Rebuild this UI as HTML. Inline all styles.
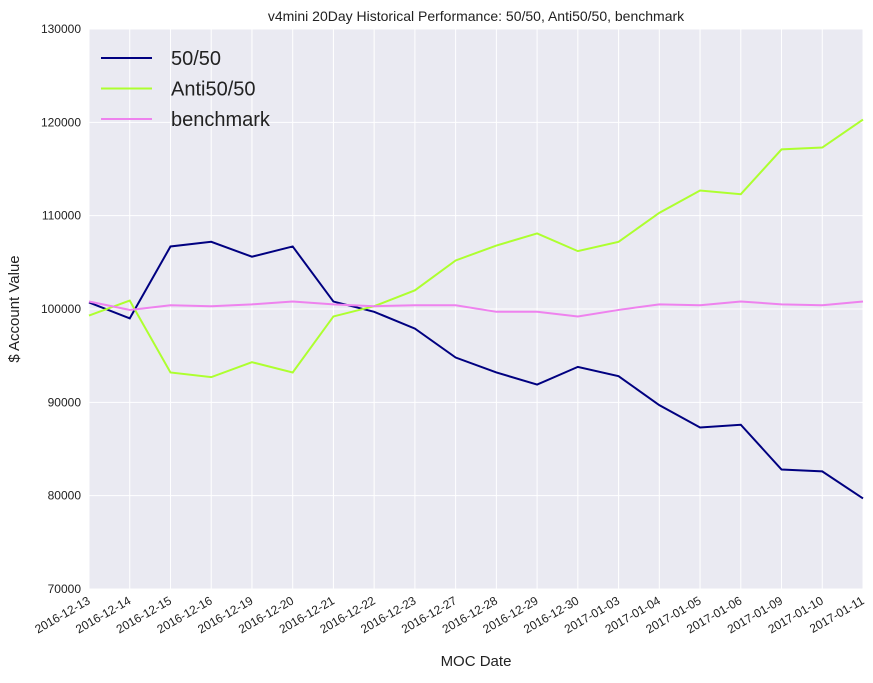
<!DOCTYPE html>
<html><head><meta charset="utf-8"><style>
body{margin:0;background:#fff;font-family:"Liberation Sans",sans-serif;}
svg text{font-family:"Liberation Sans",sans-serif;}
</style></head><body>
<svg id="chart" width="873" height="678" xmlns="http://www.w3.org/2000/svg"></svg>
<script>
const dates=["2016-12-13","2016-12-14","2016-12-15","2016-12-16","2016-12-19","2016-12-20","2016-12-21","2016-12-22","2016-12-23","2016-12-27","2016-12-28","2016-12-29","2016-12-30","2017-01-03","2017-01-04","2017-01-05","2017-01-06","2017-01-09","2017-01-10","2017-01-11"];
const s5050=[100700,99000,106700,107200,105600,106700,100800,99700,97900,94800,93200,91900,93800,92800,89700,87300,87600,82800,82600,79700];
const anti=[99300,100900,93200,92700,94300,93200,99200,100300,102000,105200,106800,108100,106200,107200,110300,112700,112300,117100,117300,120300];
const bench=[100800,99900,100400,100300,100500,100800,100500,100300,100400,100400,99700,99700,99200,99900,100500,100400,100800,100500,100400,100800];
const yTicks=[70000,80000,90000,100000,110000,120000,130000];
const seriesNames=["50/50","Anti50/50","benchmark"];
const NS="http://www.w3.org/2000/svg";
const svg=document.getElementById("chart");
const L=89,R=863,T=29,B=589;
const x=i=>L+(R-L)*i/(dates.length-1);
const y=v=>B-(B-T)*(v-70000)/60000;
function el(tag,attrs,parent){const e=document.createElementNS(NS,tag);for(const k in attrs)e.setAttribute(k,attrs[k]);(parent||svg).appendChild(e);return e;}
const bg=el("rect",{x:L,y:T,width:R-L,height:B-T,fill:"#eaeaf2"});


yTicks.forEach(v=>{
  const g=el("line",{x1:L,x2:R,y1:y(v),y2:y(v),stroke:"#fff","stroke-width":1});
  
  
  const t=el("text",{x:L-8,y:y(v)+4,"text-anchor":"end","font-size":12,fill:"#222"});
  t.textContent=v;
  
  
});
dates.forEach((d,i)=>{
  const g=el("line",{x1:x(i),x2:x(i),y1:T,y2:B,stroke:"#fff","stroke-width":1});
  
  
  const t=el("text",{x:x(i)+2,y:B+14,"text-anchor":"end","font-size":12,fill:"#222",transform:`rotate(-30 ${x(i)+2} ${B+14})`});
  t.textContent=d;
  
  
});
const colors=["#000080","#adff2f","#ee82ee"];
[s5050,anti,bench].forEach((s,k)=>{
  const p=el("polyline",{points:s.map((v,i)=>x(i)+","+y(v)).join(" "),fill:"none",stroke:colors[k],"stroke-width":2});
  
  
  const ly=58+k*30.5;
  const ll=el("line",{x1:101,x2:152,y1:ly,y2:ly,stroke:colors[k],"stroke-width":2});
  
  
  const lt=el("text",{x:171,y:ly+7,"font-size":20,fill:"#222"});
  lt.textContent=seriesNames[k];
  
  
});
const title=el("text",{x:(L+R)/2,y:21,"text-anchor":"middle","font-size":14,fill:"#222"});
title.textContent="v4mini 20Day Historical Performance: 50/50, Anti50/50, benchmark";


const xt=el("text",{x:(L+R)/2,y:666,"text-anchor":"middle","font-size":15,fill:"#222"});
xt.textContent="MOC Date";


const yt=el("text",{x:19,y:(T+B)/2,"text-anchor":"middle","font-size":15,fill:"#222",transform:`rotate(-90 19 ${(T+B)/2})`});
yt.textContent="$ Account Value";


</script>
</body></html>
